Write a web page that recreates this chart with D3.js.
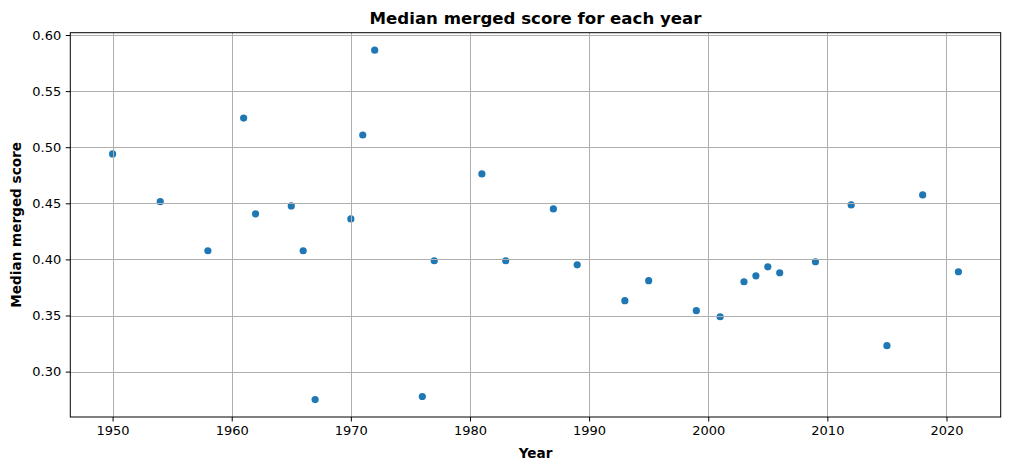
<!DOCTYPE html>
<html>
<head>
<meta charset="utf-8">
<script src="https://cdn.jsdelivr.net/npm/d3@7"></script>
<style>
  html, body { margin: 0; padding: 0; background: #fff; }
  text { font-family: "DejaVu Sans", sans-serif; }
</style>
</head>
<body>
<svg id="chart" width="1010" height="470"></svg>
<script>
// Years and their median merged score
const years = [1950, 1954, 1958, 1961, 1962, 1965, 1966, 1967, 1970, 1971, 1972,
  1976, 1977, 1981, 1983, 1987, 1989, 1993, 1995, 1999, 2001, 2003, 2004, 2005,
  2006, 2009, 2012, 2015, 2018, 2021];
const scores = [0.494, 0.4515, 0.4077, 0.526, 0.4406, 0.4477, 0.4077, 0.2751, 0.4361,
  0.5109, 0.5865, 0.2778, 0.3988, 0.4762, 0.3988, 0.4450, 0.3952, 0.3632, 0.3810,
  0.3543, 0.3489, 0.3801, 0.3854, 0.3934, 0.3881, 0.3979, 0.4486, 0.3231, 0.4575, 0.3890];
const xTicks = [1950, 1960, 1970, 1980, 1990, 2000, 2010, 2020];
const yTicks = [0.30, 0.35, 0.40, 0.45, 0.50, 0.55, 0.60];

const width = 1010;
const height = 470;
const margin = { top: 32.7, right: 9.3, bottom: 53, left: 70.3 };

const svg = d3.select('#chart');

// matplotlib-style 5% padding around the data
const pad = (ext) => {
  const d = (ext[1] - ext[0]) * 0.05;
  return [ext[0] - d, ext[1] + d];
};

const x = d3.scaleLinear()
  .domain(pad(d3.extent(years)))
  .range([margin.left, width - margin.right]);
const y = d3.scaleLinear()
  .domain(pad(d3.extent(scores)))
  .range([height - margin.bottom, margin.top]);

const data = years.map((yr, i) => ({ year: yr, score: scores[i] }));

// Points
svg.append('g')
  .selectAll('circle')
  .data(data)
  .join('circle')
  .attr('cx', (d) => x(d.year))
  .attr('cy', (d) => y(d.score))
  .attr('r', 3.6)
  .attr('fill', '#1f77b4');

// Grid (drawn above points, like the original)
const grid = svg.append('g').attr('stroke', '#b0b0b0').attr('stroke-width', 1);
grid.selectAll('line.gx')
  .data(xTicks)
  .join('line')
  .attr('class', 'gx')
  .attr('x1', (d) => Math.round(x(d)) + 0.5)
  .attr('x2', (d) => Math.round(x(d)) + 0.5)
  .attr('y1', margin.top)
  .attr('y2', height - margin.bottom);
grid.selectAll('line.gy')
  .data(yTicks)
  .join('line')
  .attr('class', 'gy')
  .attr('y1', (d) => Math.round(y(d)) + 0.5)
  .attr('y2', (d) => Math.round(y(d)) + 0.5)
  .attr('x1', margin.left)
  .attr('x2', width - margin.right);

// Axes
const xAxis = svg.append('g')
  .attr('transform', `translate(0,${height - margin.bottom})`)
  .call(d3.axisBottom(x).tickValues(xTicks).tickFormat(d3.format('d')).tickSizeInner(4.5).tickSizeOuter(0).tickPadding(4.5));
const yAxis = svg.append('g')
  .attr('transform', `translate(${margin.left},0)`)
  .call(d3.axisLeft(y).tickValues(yTicks).tickFormat(d3.format('.2f')).tickSizeInner(4.5).tickSizeOuter(0).tickPadding(4.5));

[xAxis, yAxis].forEach((g) => {
  g.attr('font-size', null).attr('font-family', null);
  g.select('.domain').remove();
  g.selectAll('text')
    .style('font-size', '13px')
    .style('font-family', '"DejaVu Sans", sans-serif')
    .attr('fill', '#000');
  g.selectAll('line').attr('stroke', '#000').attr('stroke-width', 1);
});

// Frame
svg.append('rect')
  .attr('x', margin.left)
  .attr('y', margin.top)
  .attr('width', width - margin.left - margin.right)
  .attr('height', height - margin.top - margin.bottom)
  .attr('fill', 'none')
  .attr('stroke', '#000')
  .attr('stroke-width', 1);

// Title and labels
const cx = (margin.left + width - margin.right) / 2;
svg.append('text')
  .attr('x', cx)
  .attr('y', 24)
  .attr('text-anchor', 'middle')
  .style('font-size', '16.6px')
  .attr('font-weight', 'bold')
  .text('Median merged score for each year');

svg.append('text')
  .attr('x', cx)
  .attr('y', 457.5)
  .attr('text-anchor', 'middle')
  .style('font-size', '13.6px')
  .attr('font-weight', 'bold')
  .text('Year');

svg.append('text')
  .attr('transform', `translate(20.5,${(margin.top + height - margin.bottom) / 2}) rotate(-90)`)
  .attr('text-anchor', 'middle')
  .style('font-size', '13.6px')
  .attr('font-weight', 'bold')
  .text('Median merged score');
</script>
</body>
</html>
